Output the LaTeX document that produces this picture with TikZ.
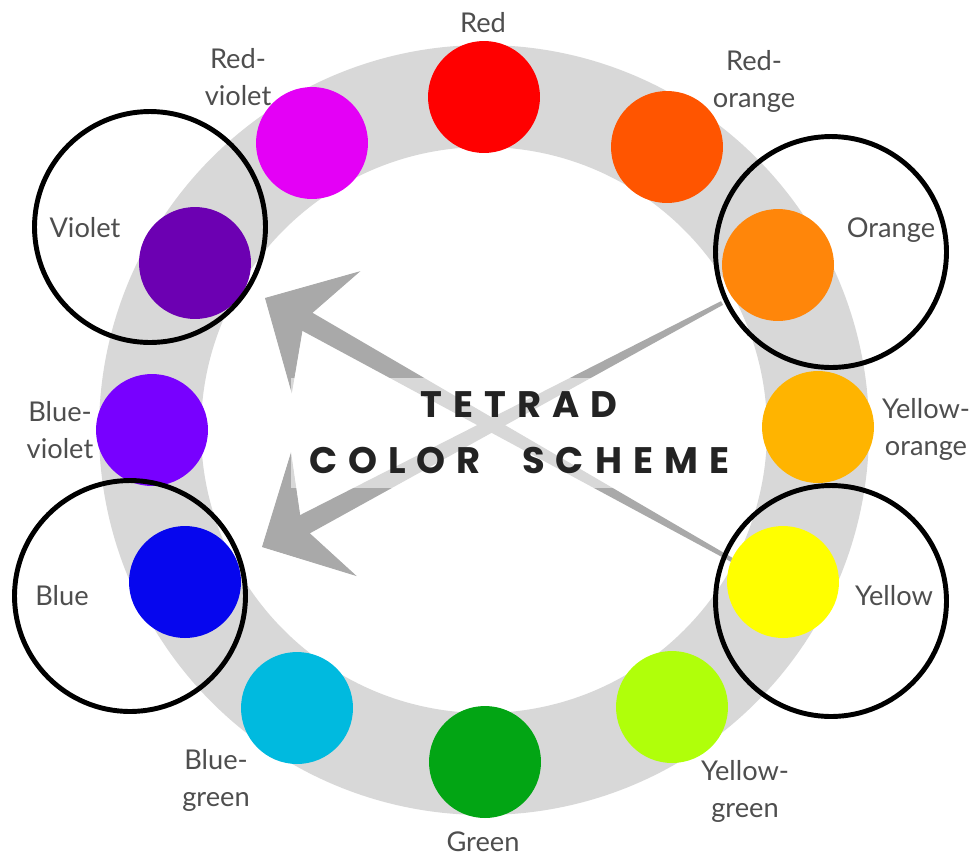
\documentclass[tikz,border=0pt]{standalone}
\usepackage{fontspec}
\setmainfont{Lato}
\newfontfamily\titlefont[LetterSpace=30]{Poppins}
\usetikzlibrary{arrows.meta,calc}
\definecolor{RingGray}{HTML}{D8D8D8}
\definecolor{ArrowGray}{HTML}{A9A9A9}
\definecolor{LabelGray}{HTML}{4E4E4E}
\definecolor{TitleInk}{HTML}{232323}
\definecolor{cRed}{HTML}{FF0000}
\definecolor{cRedOrange}{HTML}{FF5500}
\definecolor{cOrange}{HTML}{FF860A}
\definecolor{cYellowOrange}{HTML}{FFB400}
\definecolor{cYellow}{HTML}{FFFF00}
\definecolor{cYellowGreen}{HTML}{B0FF0A}
\definecolor{cGreen}{HTML}{02A514}
\definecolor{cBlueGreen}{HTML}{00BADF}
\definecolor{cBlue}{HTML}{0606EE}
\definecolor{cBlueViolet}{HTML}{7800FF}
\definecolor{cViolet}{HTML}{6C00B2}
\definecolor{cRedViolet}{HTML}{E400F6}

\begin{document}
\begin{tikzpicture}[x=0.02cm, y=-0.02cm,
    dot/.style={circle, inner sep=0pt, minimum size=2.24cm},
    pick/.style={circle, draw=black, line width=2.8pt, inner sep=0pt, minimum size=4.62cm},
    lbl/.style={text=LabelGray, font=\fontsize{15.5}{21}\selectfont, align=center, anchor=base, inner sep=0pt},
    pointer/.style={draw=ArrowGray, line width=0.5pt, -{Stealth[length=1.4cm, width=2.8cm, inset=0.5cm]}}
  ]
    \useasboundingbox[fill=white] (0,0) rectangle (980,856);

    \coordinate (wheel) at (484,430);
    \draw[RingGray, line width=2.04cm] (wheel) circle[radius=334];

    \coordinate (sA) at (732,560);
    \coordinate (tA) at (265,298);
    \coordinate (sB) at (722,303);
    \coordinate (tB) at (262,547);
    \coordinate (nA) at ($(tA)!0.8cm!(sA)$);
    \coordinate (nB) at ($(tB)!0.8cm!(sB)$);
    \fill[ArrowGray] ($(sA)!1.2pt!90:(tA)$) -- ($(nA)!0.21cm!-90:(sA)$) -- ($(nA)!0.21cm!90:(sA)$) -- ($(sA)!1.2pt!-90:(tA)$) -- cycle;
    \fill[ArrowGray] ($(sB)!1.2pt!90:(tB)$) -- ($(nB)!0.21cm!-90:(sB)$) -- ($(nB)!0.21cm!90:(sB)$) -- ($(sB)!1.2pt!-90:(tB)$) -- cycle;
    \draw[pointer] (nA) -- (tA);
    \draw[pointer] (nB) -- (tB);

    \node[dot, fill=cRed] (red) at (484,97) {};
    \node[dot, fill=cRedOrange] (redorange) at (667,147) {};
    \node[dot, fill=cOrange] (orange) at (778,265) {};
    \node[dot, fill=cYellowOrange] (yelloworange) at (818,427) {};
    \node[dot, fill=cYellow] (yellow) at (783,582) {};
    \node[dot, fill=cYellowGreen] (yellowgreen) at (672,707) {};
    \node[dot, fill=cGreen] (green) at (485,762) {};
    \node[dot, fill=cBlueGreen] (bluegreen) at (297,708) {};
    \node[dot, fill=cBlue] (blue) at (185,582) {};
    \node[dot, fill=cBlueViolet] (blueviolet) at (152,430) {};
    \node[dot, fill=cViolet] (violet) at (195,263) {};
    \node[dot, fill=cRedViolet] (redviolet) at (312,143) {};

    \node[pick] (pviolet) at (150,227) {};
    \node[pick] (porange) at (831,252) {};
    \node[pick] (pblue) at (130,596) {};
    \node[pick] (pyellow) at (831,601) {};

    \node[fill=white, fill opacity=0.55, text opacity=1, text=TitleInk, inner xsep=10pt, inner ysep=8pt,
      font=\titlefont\bfseries\fontsize{21}{32}\selectfont, align=center] (title) at (519,433) {TETRAD\\COLOR\hspace{0.6em} SCHEME};

    \node[lbl] (lred) at (483,32) {Red};
    \node[lbl] (lredorange) at (754,107) {Red-\\orange};
    \node[lbl] (lorange) at (891,237) {Orange};
    \node[lbl] (lyelloworange) at (926,455) {Yellow-\\orange};
    \node[lbl] (lyellow) at (894,605) {Yellow};
    \node[lbl] (lyellowgreen) at (745,817) {Yellow-\\green};
    \node[lbl] (lgreen) at (483,851) {Green};
    \node[lbl] (lbluegreen) at (216,806) {Blue-\\green};
    \node[lbl] (lblue) at (62,605) {Blue};
    \node[lbl] (lblueviolet) at (60,458) {Blue-\\violet};
    \node[lbl] (lviolet) at (85,237) {Violet};
    \node[lbl] (lredviolet) at (238,105) {Red-\\violet};
\end{tikzpicture}
\end{document}
